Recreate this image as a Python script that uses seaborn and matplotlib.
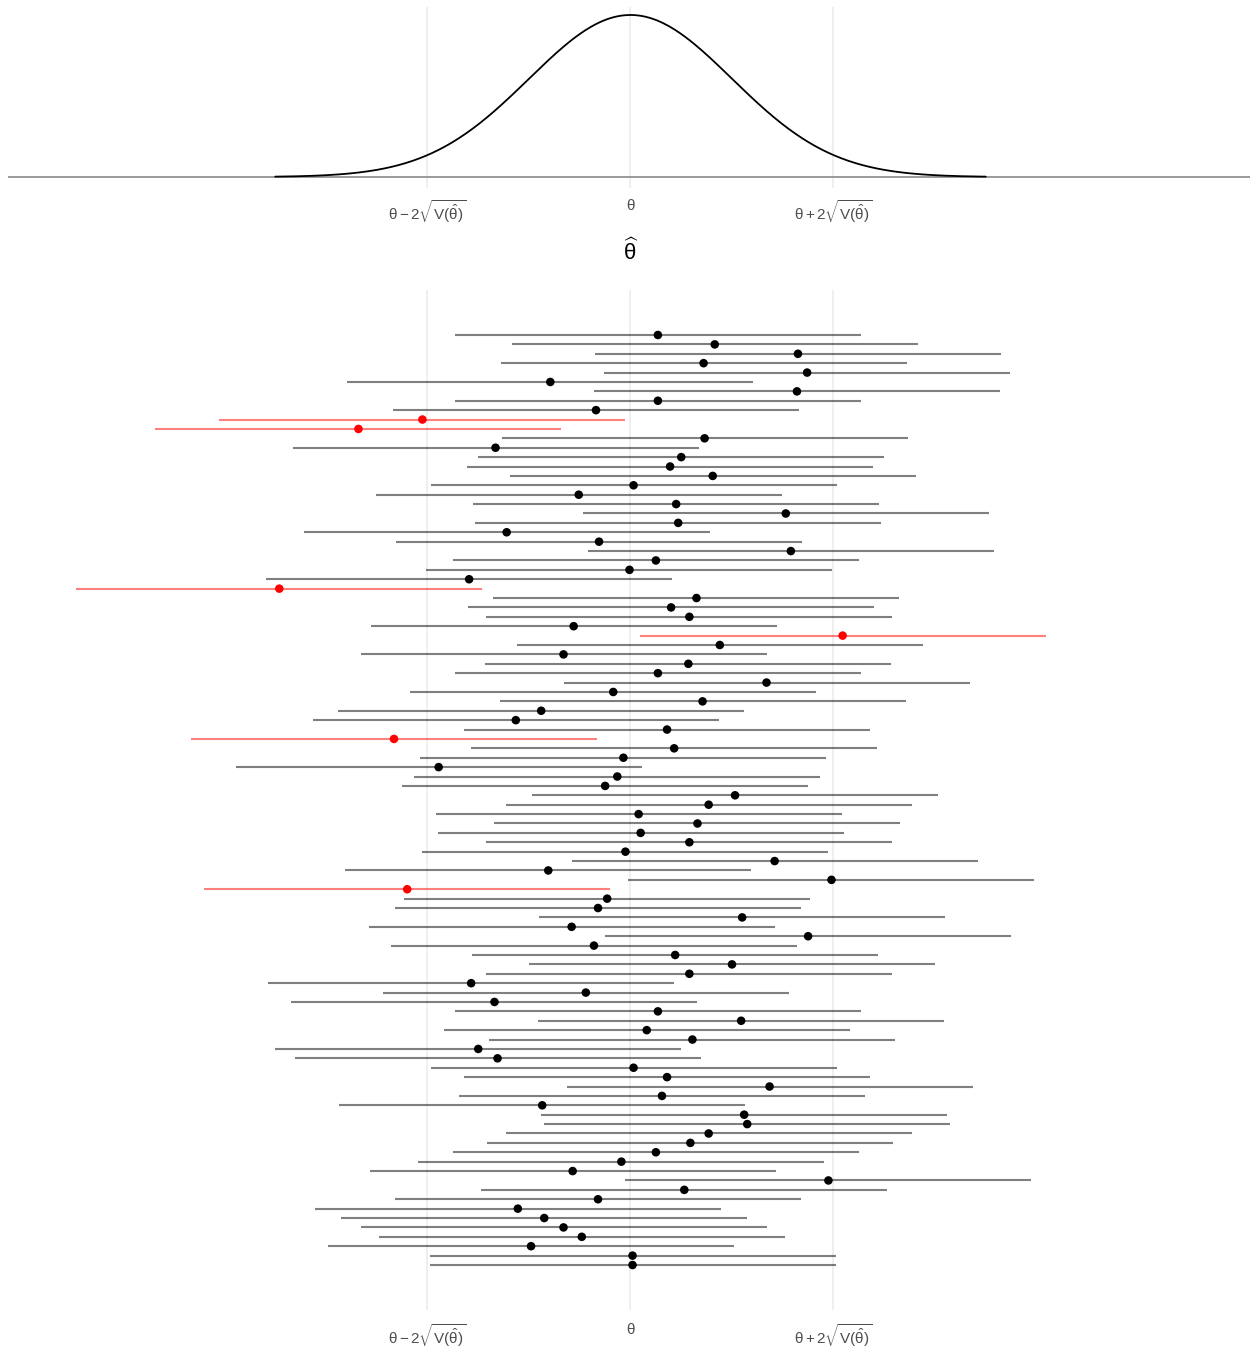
import numpy as np
import pandas as pd
import matplotlib
matplotlib.use('Agg')
import matplotlib.pyplot as plt
import seaborn as sns

# ── Data: 100 simulated estimates, in units of sqrt(V(theta_hat)) from theta ──
estimates = [
    0.27, 0.83, 1.65, 0.72, 1.74, -0.79, 1.64, 0.27, -0.34, -2.05,
    -2.68, 0.73, -1.33, 0.50, 0.39, 0.81, 0.03, -0.51, 0.45, 1.53,
    0.47, -1.22, -0.31, 1.58, 0.25, -0.01, -1.59, -3.46, 0.65, 0.40,
    0.58, -0.56, 2.09, 0.88, -0.66, 0.57, 0.27, 1.34, -0.17, 0.71,
    -0.88, -1.13, 0.36, -2.33, 0.43, -0.07, -1.89, -0.13, -0.25, 1.03,
    0.77, 0.08, 0.66, 0.10, 0.58, -0.05, 1.42, -0.81, 1.98, -2.20,
    -0.23, -0.32, 1.10, -0.58, 1.75, -0.36, 0.44, 1.00, 0.58, -1.57,
    -0.44, -1.34, 0.27, 1.09, 0.16, 0.61, -1.50, -1.31, 0.03, 0.36,
    1.37, 0.31, -0.87, 1.12, 1.15, 0.77, 0.59, 0.25, -0.09, -0.57,
    1.95, 0.53, -0.32, -1.11, -0.85, -0.66, -0.48, -0.98, 0.02, 0.02,
]
half_width = 2.0
tick_pos = [-2, 0, 2]
tick_labels = [r'$\theta-2\sqrt{V(\hat{\theta})}$', r'$\theta$',
               r'$\theta+2\sqrt{V(\hat{\theta})}$']

df = pd.DataFrame({'est': estimates})
df['row'] = np.arange(len(df))
df['lo'] = df['est'] - half_width
df['hi'] = df['est'] + half_width
df['covers'] = (df['lo'] <= 0) & (df['hi'] >= 0)

# ── Style ─────────────────────────────────────────────────────────────────────
sns.set_theme(style='white')
plt.rcParams['font.family'] = ['Liberation Sans', 'DejaVu Sans']
plt.rcParams['mathtext.fontset'] = 'custom'
plt.rcParams['mathtext.rm'] = 'Liberation Sans'
plt.rcParams['mathtext.it'] = 'Liberation Sans'
plt.rcParams['mathtext.bf'] = 'Liberation Sans:bold'

W, H = 1252, 1358
fig = plt.figure(figsize=(W / 100, H / 100), dpi=100)

px = 101.5                       # pixels per unit
x0 = 630.5                       # pixel of theta
xlim = ((8 - x0) / px, (1250 - x0) / px)

def style_axis(ax, pad):
    for s in ax.spines.values():
        s.set_visible(False)
    ax.set_xlim(xlim)
    ax.set_xticks(tick_pos)
    ax.set_xticklabels(tick_labels)
    ax.tick_params(axis='x', length=0, pad=pad, labelsize=11, labelcolor='#4D4D4D')
    ax.set_yticks([])
    ax.set_xlabel('')
    ax.set_ylabel('')
    for t in tick_pos:
        ax.axvline(t, color='#EBEBEB', lw=1.1, zorder=0)

# ── Top panel: sampling density ───────────────────────────────────────────────
top_px, bot_px = 7, 188
ax1 = fig.add_axes([8 / W, (H - bot_px) / H, 1242 / W, (bot_px - top_px) / H])
grid = np.linspace(-3.5, 3.5, 400)
dens = pd.DataFrame({'x': grid, 'y': np.exp(-grid ** 2 / 2) / np.sqrt(2 * np.pi)})
sns.lineplot(data=dens, x='x', y='y', color='black', lw=1.3, ax=ax1, zorder=3)
ax1.axhline(0, color='#9A9A9A', lw=1.4, zorder=2)
scale = 162 / 0.3989
ax1.set_ylim(-11 / scale, 0.3989 + 8 / scale)
style_axis(ax1, 7)

fig.text(631 / W, 1 - 252 / H, r'$\widehat{\theta}$', ha='center', va='center',
         fontsize=16, color='black')

# ── Bottom panel: intervals ───────────────────────────────────────────────────
ax2 = fig.add_axes([8 / W, 48 / H, 1242 / W, 1020 / H])
row_px = (1265 - 335) / 99
ax2.set_ylim(99 + (1310 - 1265) / row_px, -(335 - 290) / row_px)
ok = df[df['covers']]
bad = df[~df['covers']]
ax2.hlines(ok['row'], ok['lo'], ok['hi'], colors='black', alpha=0.5, lw=1.5, zorder=2)
ax2.hlines(bad['row'], bad['lo'], bad['hi'], colors='red', alpha=0.5, lw=1.5, zorder=2)
sns.scatterplot(data=df, x='est', y='row', hue='covers',
                palette={True: 'black', False: 'red'}, s=38, linewidth=0,
                legend=False, ax=ax2, zorder=3)
style_axis(ax2, 9)

fig.savefig('out.png', dpi=100)
